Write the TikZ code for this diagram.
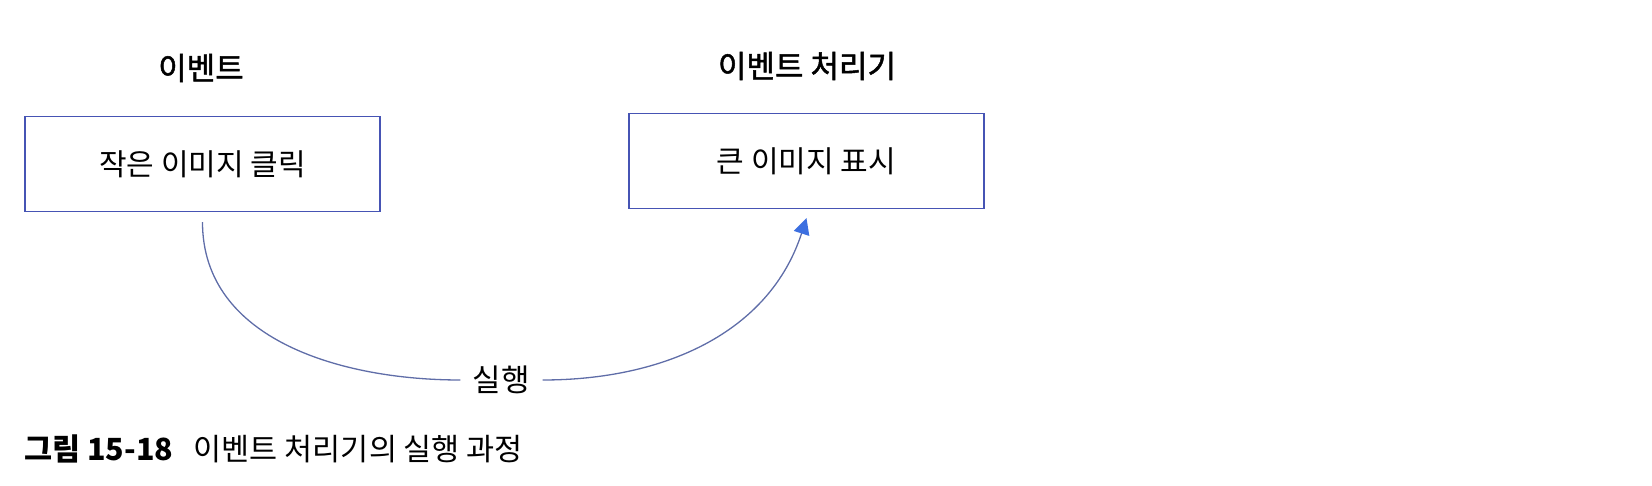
\documentclass[tikz,border=0pt]{standalone}
\usepackage{fontspec}
\setmainfont{Noto Sans CJK KR}
\newfontfamily\titlefont{Noto Sans CJK KR}[FakeBold=1.6]
\usetikzlibrary{arrows.meta}
\definecolor{boxblue}{HTML}{4654B4}
\definecolor{curveblue}{HTML}{5F6DA8}
\definecolor{tipblue}{HTML}{3C6FE0}
\tikzset{
  box/.style={draw=boxblue, line width=1.4pt, minimum width=355pt, minimum height=95pt, inner sep=0pt, font=\fontsize{30}{34}\selectfont},
  title/.style={inner sep=0pt, font=\titlefont\fontsize{31}{35}\selectfont},
  conn/.style={draw=curveblue, line width=1.3pt},
  lbl/.style={inner sep=0pt, font=\fontsize{31}{35}\selectfont},
  captext/.style={inner sep=0pt, anchor=base west, font=\fontsize{30.5}{34}\selectfont}
}
\begin{document}
\begin{tikzpicture}[x=1pt, y=-1pt]
\useasboundingbox (0,0) rectangle (1652,486);
\node[title] (t1) at (201,68) {이벤트};
\node[title] (t2) at (807,66) {이벤트 처리기};
\node[box] (box1) at (202.5,164) {작은 이미지 클릭};
\node[box] (box2) at (806.5,161) {큰 이미지 표시};
\node[lbl] (run) at (501,380) {실행};
\coordinate (s) at ([yshift=-10pt]box1.south);
\coordinate (e) at ([yshift=-9pt]box2.south);
\draw[conn] (s) to[out=-90, in=180] ([xshift=-12pt]run.west);
\draw[conn, -{Triangle[length=16pt, width=16pt, color=tipblue, fill=tipblue]}] ([xshift=13pt]run.east) to[out=0, in=252] (e);
\node[captext] (caption) at (24,460) {{\bfseries 그림 15-18}\hspace{0.45em} 이벤트 처리기의 실행 과정};
\end{tikzpicture}
\end{document}
